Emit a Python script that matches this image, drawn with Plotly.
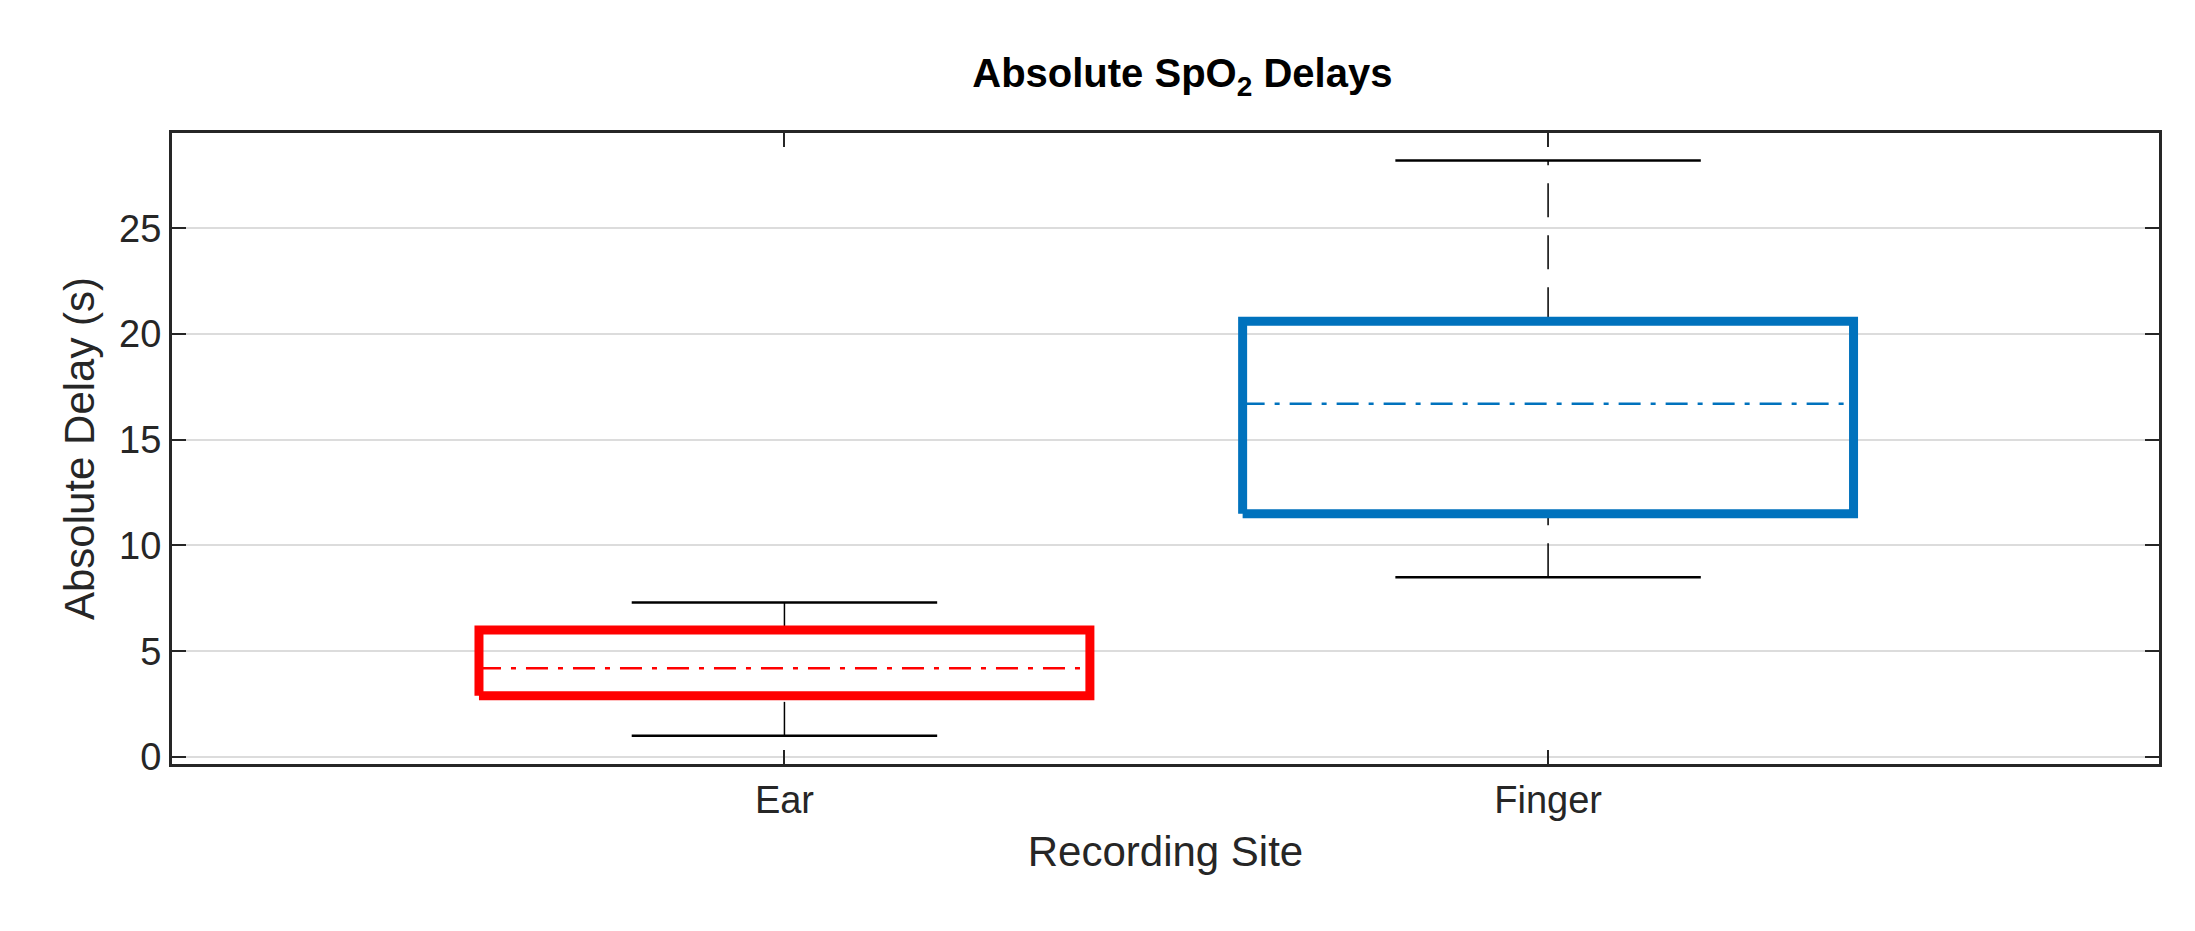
import plotly.graph_objects as go

categories = ["Ear", "Finger"]
positions = [1, 2]
lower_whisker = [1.0, 8.5]
q1 = [2.9, 11.5]
median = [4.2, 16.7]
q3 = [6.0, 20.6]
upper_whisker = [7.3, 28.2]
colors = ["#FF0000", "#0072BD"]
y_ticks = [0, 5, 10, 15, 20, 25]

BW = 0.4
CW = 0.2
fig = go.Figure()
for i, name in enumerate(categories):
    p = positions[i]
    for a, b in [(lower_whisker[i], q1[i]), (q3[i], upper_whisker[i])]:
        fig.add_trace(go.Scatter(x=[p, p], y=[a, b], mode="lines",
                                 line=dict(color="black", width=1.5, dash="34px,18px"),
                                 showlegend=False, hoverinfo="skip"))
    for v in [lower_whisker[i], upper_whisker[i]]:
        fig.add_trace(go.Scatter(x=[p - CW, p + CW], y=[v, v], mode="lines",
                                 line=dict(color="black", width=2.5),
                                 showlegend=False, hoverinfo="skip"))
    fig.add_trace(go.Scatter(x=[p - BW, p + BW, p + BW, p - BW, p - BW],
                             y=[q1[i], q1[i], q3[i], q3[i], q1[i]], mode="lines",
                             line=dict(color=colors[i], width=9),
                             showlegend=False, name=name))
    fig.add_trace(go.Scatter(x=[p - BW, p + BW], y=[median[i], median[i]], mode="lines",
                             line=dict(color=colors[i], width=2.5, dash="22px,10px,5px,10px"),
                             showlegend=False, hoverinfo="skip"))

font = "Liberation Sans, Arial, Helvetica, sans-serif"
fig.update_layout(
    width=2195, height=931,
    margin=dict(l=164, r=44, t=125, b=175),
    plot_bgcolor="white", paper_bgcolor="white",
    font=dict(family=font, size=38, color="#262626"),
    title=dict(text="<b>Absolute SpO<sub>2</sub> Delays</b>", x=0.535, xanchor="center",
               y=0.93, yanchor="middle", font=dict(size=40, color="black")),
    xaxis=dict(range=[0.198, 2.80], tickvals=positions, ticktext=categories,
               ticks="inside", ticklen=14, tickwidth=2, tickcolor="#262626",
               showline=True, linecolor="#262626", linewidth=3, mirror="ticks",
               showgrid=False, zeroline=False,
               title=dict(text="Recording Site", font=dict(size=42), standoff=18)),
    yaxis=dict(range=[-0.33, 29.5], tickvals=y_ticks,
               ticks="inside", ticklen=14, tickwidth=2, tickcolor="#262626",
               showline=True, linecolor="#262626", linewidth=3, mirror="ticks",
               showgrid=True, gridcolor="#DCDCDC", gridwidth=2, zeroline=False,
               title=dict(text="Absolute Delay (s)", font=dict(size=42), standoff=12)),
)
fig.write_html("out.html")
